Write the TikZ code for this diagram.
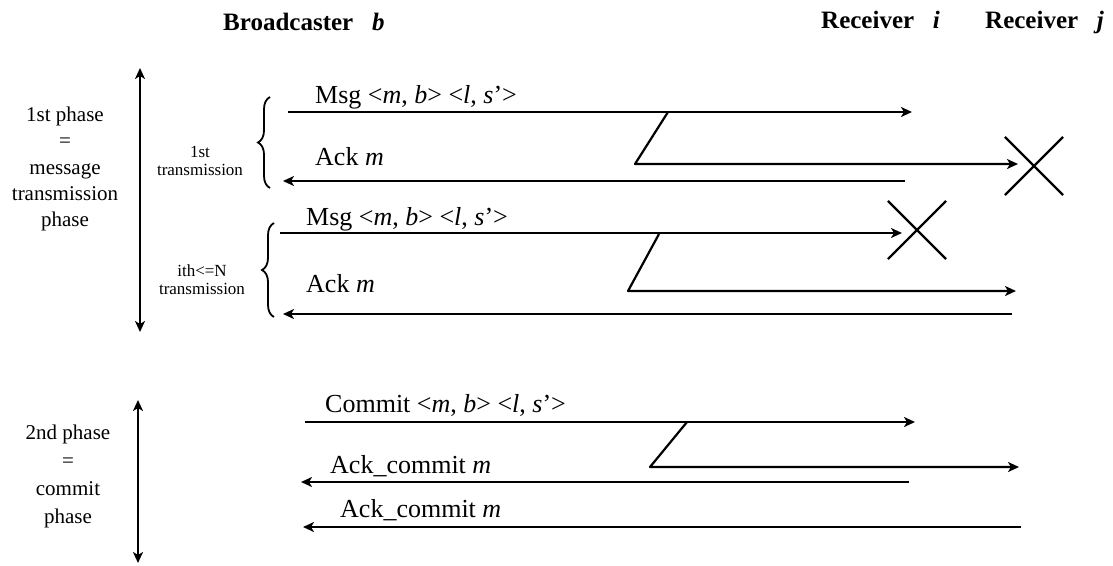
\documentclass[tikz,border=0pt]{standalone}
\usepackage{fontspec}
\setmainfont{Liberation Serif}
\usetikzlibrary{arrows.meta,decorations.pathreplacing,shapes.misc}
\tikzset{
	msgline/.style={line width=2.2pt,line join=round,-{Stealth[length=11pt,width=10pt,inset=3pt]}},
	phasearrow/.style={line width=2.2pt,{Stealth[length=11pt,width=10pt,inset=3pt]}-{Stealth[length=11pt,width=10pt,inset=3pt]}},
	lossmark/.style={draw,cross out,line width=2.2pt,inner sep=0pt,minimum size=56pt},
	hdrtext/.style={anchor=base west,inner sep=0pt,font=\fontsize{25}{30}\selectfont\bfseries},
	msgtext/.style={anchor=base west,inner sep=0pt,font=\fontsize{26}{30}\selectfont},
	phasetext/.style={align=center,inner sep=0pt},
	txtext/.style={align=center,inner sep=0pt,font=\fontsize{17}{18}\selectfont},
	txbrace/.style={line width=1.8pt,decorate,decoration={brace,amplitude=12pt}}
}
\begin{document}
\begin{tikzpicture}[x=1pt,y=-1pt]
		\useasboundingbox (0,0) rectangle (1113,565);
		\node[hdrtext] (hdrb) at (223,30) {Broadcaster\ \ \ \textit{b}};
		\node[hdrtext] (hdri) at (821,28) {Receiver\ \ \ \textit{i}};
		\node[hdrtext] (hdrj) at (985,28) {Receiver\ \ \ \textit{j}};
		\node[phasetext,font=\fontsize{21}{26.3}\selectfont] (phasea) at (65,169) {1st phase\\=\\message\\transmission\\phase};
		\node[phasetext,font=\fontsize{21}{28}\selectfont] (phaseb) at (68,476) {2nd phase\\=\\commit\\phase};
		\coordinate (patop) at (140,68);
		\coordinate (pabot) at (140,332);
		\coordinate (pbtop) at (138,400);
		\coordinate (pbbot) at (138,563);
		\draw[phasearrow] (patop)--(pabot);
		\draw[phasearrow] (pbtop)--(pbbot);
		\node[txtext] (txa) at (200,161) {1st\\transmission};
		\node[txtext] (txb) at (202,280) {ith<=N\\transmission};
		\coordinate (bralow) at (270,188);
		\coordinate (braup) at (270,97);
		\coordinate (brblow) at (274,317);
		\coordinate (brbup) at (274,223);
		\draw[txbrace] (bralow)--(braup);
		\draw[txbrace] (brblow)--(brbup);
		\coordinate (msgas) at (288,112);
		\coordinate (msgae) at (912,112);
		\coordinate (fwdas) at (668,112);
		\coordinate (fwdak) at (635,164);
		\coordinate (fwdae) at (1018,164);
		\coordinate (ackas) at (905,181);
		\coordinate (ackae) at (283,181);
		\draw[msgline] (msgas)--(msgae);
		\draw[msgline] (fwdas)--(fwdak)--(fwdae);
		\draw[msgline] (ackas)--(ackae);
		\node[lossmark] (lossa) at (1034,166) {};
		\node[msgtext] (lblmsga) at (315,103) {Msg <\textit{m}, \textit{b}> <\textit{l}, \textit{s}'>};
		\node[msgtext] (lblacka) at (315,165) {Ack \textit{m}};
		\coordinate (msgbs) at (280,233);
		\coordinate (msgbe) at (902,233);
		\coordinate (fwdbs) at (659,234);
		\coordinate (fwdbk) at (628,291);
		\coordinate (fwdbe) at (1016,291);
		\coordinate (ackbs) at (1012,314);
		\coordinate (ackbe) at (283,314);
		\draw[msgline] (msgbs)--(msgbe);
		\draw[msgline] (fwdbs)--(fwdbk)--(fwdbe);
		\draw[msgline] (ackbs)--(ackbe);
		\node[lossmark] (lossb) at (917,230) {};
		\node[msgtext] (lblmsgb) at (306,225) {Msg <\textit{m}, \textit{b}> <\textit{l}, \textit{s}'>};
		\node[msgtext] (lblackb) at (306,292) {Ack \textit{m}};
		\coordinate (cmts) at (305,422);
		\coordinate (cmte) at (915,422);
		\coordinate (fwdcs) at (687,422);
		\coordinate (fwdck) at (650,467);
		\coordinate (fwdce) at (1019,467);
		\coordinate (ackcas) at (909,482);
		\coordinate (ackcae) at (301,482);
		\coordinate (ackcbs) at (1021,527);
		\coordinate (ackcbe) at (303,527);
		\draw[msgline] (cmts)--(cmte);
		\draw[msgline] (fwdcs)--(fwdck)--(fwdce);
		\draw[msgline] (ackcas)--(ackcae);
		\draw[msgline] (ackcbs)--(ackcbe);
		\node[msgtext] (lblcommit) at (325,412) {Commit <\textit{m}, \textit{b}> <\textit{l}, \textit{s}'>};
		\node[msgtext] (lblackca) at (330,473) {Ack\_commit \textit{m}};
		\node[msgtext] (lblackcb) at (340,517) {Ack\_commit \textit{m}};
	\end{tikzpicture}
\end{document}
